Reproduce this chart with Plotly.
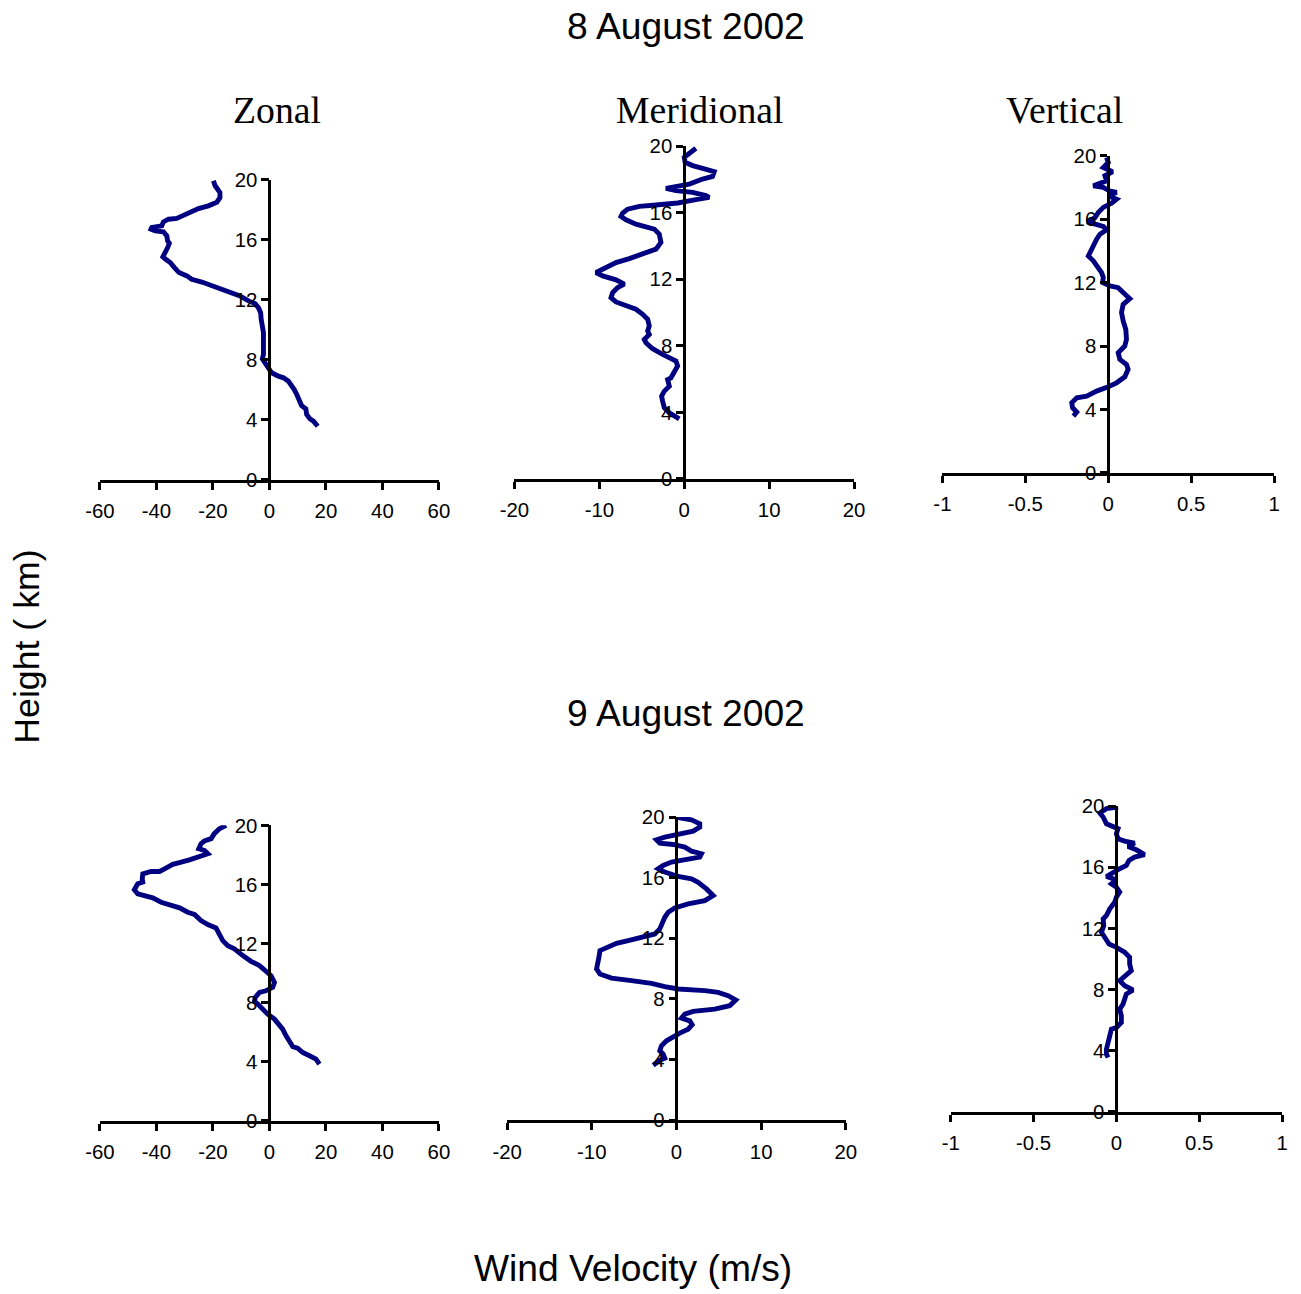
import plotly.graph_objects as go

# ---- Wind profiles, 8 August 2002 (height in km, wind in m/s) ----
zonal_aug8_h = [19.93, 19.6, 19.15, 18.8, 18.5, 18.26, 18.08, 17.86, 17.64, 17.42, 17.37, 17.19,
                16.93, 16.82, 16.7, 16.59, 16.53, 16.26, 15.92, 15.77, 15.48, 15.14, 14.86, 14.7,
                14.48, 14.14, 13.81, 13.59, 13.36, 13.18, 12.96, 12.69, 12.47, 12.25, 11.92, 11.74,
                11.47, 11.14, 10.69, 10.24, 9.8, 9.24, 8.8, 8.35, 8.06, 7.8, 7.46, 7.13, 6.9, 6.79,
                6.57, 6.28, 6.01, 5.68, 5.35, 4.94, 4.72, 4.34, 4.05, 3.9, 3.56]
zonal_aug8_u = [-19.8, -19.2, -17.5, -17.5, -18.6, -21.6, -25.1, -27.5, -29.8, -32.8, -35.7, -37.5,
                -38.1, -41.6, -41.9, -40.4, -37.5, -36.3, -36.0, -35.4, -36.0, -36.7, -37.7, -36.7,
                -35.1, -33.6, -32.0, -29.2, -27.5, -23.9, -20.4, -16.3, -13.3, -10.4, -7.4, -5.1,
                -3.9, -3.1, -2.9, -2.5, -2.1, -2.1, -1.9, -2.1, -2.5, -1.5, -0.35, 0.8, 3.2, 5.0,
                6.7, 7.9, 8.8, 9.7, 10.5, 11.4, 12.9, 13.2, 14.4, 15.6, 17.1]

merid_aug8_h = [19.88, 19.68, 19.34, 19.04, 18.84, 18.67, 18.47, 18.19, 18.03, 17.73, 17.59, 17.47,
                17.33, 17.23, 17.03, 16.93, 16.79, 16.59, 16.47, 16.39, 16.22, 15.98, 15.78, 15.58,
                15.32, 15.18, 15.02, 14.72, 14.22, 13.82, 13.51, 13.25, 13.01, 12.71, 12.41, 12.21,
                11.97, 11.71, 11.51, 11.2, 10.9, 10.64, 10.4, 10.2, 9.9, 9.6, 9.2, 8.9, 8.69, 8.39,
                8.19, 7.83, 7.49, 7.29, 7.09, 6.79, 6.49, 6.08, 5.98, 5.58, 5.28, 4.98, 4.68, 4.28,
                3.98, 3.61]
merid_aug8_v = [1.37, 0.78, 0.0, 0.1, 0.98, 2.16, 3.53, 3.33, 2.16, 0.59, -0.98, -2.16,
                -0.98, 0.98, 2.55, 2.94, 1.37, -0.78, -3.33, -5.29, -6.67, -7.25, -7.45, -6.86,
                -5.69, -4.51, -3.53, -2.94, -2.75, -3.33, -4.9, -6.47, -8.04, -9.22, -10.39, -9.61,
                -8.04, -7.06, -7.84, -8.43, -8.63, -8.04, -6.67, -5.69, -4.9, -4.31, -4.12, -4.31,
                -4.12, -4.71, -4.51, -3.73, -2.55, -1.57, -0.98, -0.78, -1.18, -1.57, -1.96, -1.76,
                -2.35, -2.67, -2.55, -2.35, -1.76, -0.59]

vert_aug8_h = [19.89, 19.58, 19.26, 18.99, 18.74, 18.42, 18.1, 18.0, 17.79, 17.68, 17.47, 17.26,
               17.01, 16.74, 16.42, 16.1, 15.83, 15.68, 15.54, 15.33, 15.05, 14.74, 14.32, 14.0,
               13.68, 13.37, 12.95, 12.63, 12.32, 12.0, 11.79, 11.68, 11.37, 10.99, 10.63, 10.11,
               9.58, 9.05, 8.42, 8.0, 7.58, 7.16, 6.84, 6.53, 6.06, 5.68, 5.43, 5.16, 4.84, 4.74,
               4.42, 4.11, 3.83, 3.58]
vert_aug8_w = [-0.01, 0.0, -0.03, 0.026, -0.02, -0.01, -0.09, -0.03, 0.006, 0.05, 0.0, 0.05,
               0.02, -0.03, -0.06, -0.08, -0.127, -0.07, -0.03, -0.01, -0.05, -0.07, -0.09, -0.11,
               -0.12, -0.09, -0.06, -0.04, -0.03, -0.034, 0.01, 0.06, 0.09, 0.13, 0.09, 0.08,
               0.09, 0.106, 0.11, 0.1, 0.06, 0.07, 0.11, 0.12, 0.1, 0.05, 0.0, -0.07, -0.13, -0.19,
               -0.22, -0.215, -0.19, -0.21]

# ---- Wind profiles, 9 August 2002 ----
zonal_aug9_h = [20.0, 19.77, 19.44, 19.1, 18.94, 18.76, 18.42, 18.3, 18.08, 17.85, 17.67, 17.51,
                17.36, 17.06, 16.88, 16.88, 16.72, 16.38, 16.16, 16.05, 15.64, 15.37, 15.25, 15.1,
                14.8, 14.62, 14.42, 14.12, 13.97, 13.56, 13.29, 13.06, 12.66, 12.2, 11.86, 11.64,
                11.19, 10.8, 10.51, 10.17, 9.83, 9.38, 9.04, 8.81, 8.7, 8.36, 8.09, 7.91, 7.57, 7.23,
                6.89, 6.55, 6.21, 5.76, 5.42, 5.02, 4.93, 4.63, 4.41, 4.18, 3.84]
zonal_aug9_u = [-15.3, -17.7, -19.5, -20.6, -23.0, -24.2, -25.0, -23.0, -21.8, -24.8, -28.3, -31.2,
                -34.2, -37.1, -38.9, -41.9, -44.8, -45.0, -44.8, -46.6, -47.8, -46.6, -43.6, -41.3,
                -38.3, -35.4, -31.8, -28.9, -26.5, -24.2, -21.8, -18.9, -17.7, -16.5, -14.7, -12.4,
                -9.4, -6.5, -3.5, -1.2, 0.6, 1.8, 1.2, -1.2, -3.5, -5.0, -5.3, -4.1, -2.4, -0.6,
                1.8, 3.5, 4.7, 5.9, 7.1, 8.3, 10.0, 11.8, 14.2, 16.5, 17.7]

merid_aug9_h = [19.96, 19.82, 19.56, 19.34, 19.07, 18.9, 18.68, 18.5, 18.28, 18.19, 18.02, 17.75,
                17.58, 17.36, 17.2, 17.03, 16.81, 16.59, 16.37, 16.08, 15.93, 15.7, 15.26, 14.82,
                14.49, 14.27, 14.0, 13.72, 13.39, 13.06, 12.62, 12.29, 12.03, 11.85, 11.67, 11.41,
                11.19, 10.75, 10.31, 9.98, 9.65, 9.38, 9.21, 9.03, 8.81, 8.66, 8.55, 8.44, 8.22,
                7.93, 7.56, 7.33, 7.18, 7.0, 6.74, 6.56, 6.3, 6.01, 5.75, 5.51, 5.24, 4.91, 4.58,
                4.36, 4.1, 3.96, 3.63]
merid_aug9_v = [0.2, 1.77, 2.75, 2.75, 1.97, 0.2, -1.38, -2.36, -1.97, -0.39, 0.98, 1.77,
                2.95, 2.75, 0.98, -0.59, -1.57, -2.16, -1.38, 0.2, 1.77, 2.56, 3.54, 4.33,
                3.34, 1.38, -0.2, -0.98, -1.38, -1.57, -1.97, -2.56, -4.13, -5.7, -7.08, -8.26,
                -9.04, -9.16, -9.24, -9.44, -9.04, -7.67, -5.31, -2.95, -1.38, 0.2, 3.34, 4.92, 6.1,
                7.0, 6.29, 4.52, 1.97, 0.98, 0.59, 1.57, 1.85, 1.38, 0.39, -0.39, -1.18, -1.77, -1.97,
                -1.57, -1.38, -1.97, -2.75]

vert_aug9_h = [19.93, 19.83, 19.54, 19.28, 18.84, 18.67, 18.52, 18.19, 17.86, 17.71, 17.58, 17.36,
               17.14, 16.83, 16.66, 16.44, 16.11, 15.9, 15.68, 15.39, 15.17, 14.91, 14.69, 14.37,
               14.04, 13.71, 13.28, 12.84, 12.62, 12.18, 11.75, 11.31, 10.98, 10.76, 10.44, 10.11,
               9.67, 9.24, 8.91, 8.58, 8.25, 7.97, 7.71, 7.38, 7.05, 6.72, 6.29, 5.85, 5.52, 5.41,
               4.98, 4.54, 4.1, 3.78, 3.56]
vert_aug9_w = [0.01, -0.06, -0.1, -0.08, -0.06, -0.01, 0.01, 0.0, 0.01, 0.05, 0.11, 0.07,
               0.12, 0.17, 0.11, 0.076, 0.06, 0.02, -0.01, -0.06, 0.0, -0.03, 0.0, 0.02,
               0.0, -0.01, -0.04, -0.06, -0.08, -0.076, -0.09, -0.06, -0.044, 0.0, 0.05, 0.08,
               0.08, 0.09, 0.06, 0.02, 0.05, 0.1, 0.06, 0.05, 0.04, 0.02, 0.03, 0.03, 0.0, -0.03,
               -0.04, -0.05, -0.06, -0.06, -0.05]

# tick values for each component
zonal_ticks = [-60, -40, -20, 0, 20, 40, 60]
merid_ticks = [-20, -10, 0, 10, 20]
vert_ticks = [-1, -0.5, 0, 0.5, 1]
vert_ticklabels = ["-1", "-0.5", "0", "0.5", "1"]
height_ticks = [0, 4, 8, 12, 16, 20]

W, H = 1301, 1294
LINE = "#000080"
SANS = "Arial, Liberation Sans, sans-serif"
SERIF = "Times New Roman, Liberation Serif, serif"

# The page is displayed slightly inset; lay everything out on a canvas spread
# outward from the centre by 1/S so the visible positions land where wanted.
S = 0.981
CX, CY = W / 2, H / 2


def fx(px):
    return (CX + (px - CX) / S) / W


def fy(py):
    return 1 - (CY + (py - CY) / S) / H


def fs(size):
    return size / S


# panel geometry in pixels: left, right, top, bottom edges of each plot box
panels = [
    dict(x=zonal_aug8_u, y=zonal_aug8_h, l=97.3, r=436.7, t=180.7, b=480.0,
         rng=[-60, 60], ticks=zonal_ticks, labels=None),
    dict(x=merid_aug8_v, y=merid_aug8_h, l=512.3, r=852.3, t=147.3, b=479.3,
         rng=[-20, 20], ticks=merid_ticks, labels=None),
    dict(x=vert_aug8_w, y=vert_aug8_h, l=940.7, r=1272.7, t=156.7, b=473.3,
         rng=[-1, 1], ticks=vert_ticks, labels=vert_ticklabels),
    dict(x=zonal_aug9_u, y=zonal_aug9_h, l=97.3, r=436.7, t=825.0, b=1120.0,
         rng=[-60, 60], ticks=zonal_ticks, labels=None),
    dict(x=merid_aug9_v, y=merid_aug9_h, l=505.0, r=844.0, t=816.7, b=1119.3,
         rng=[-20, 20], ticks=merid_ticks, labels=None),
    dict(x=vert_aug9_w, y=vert_aug9_h, l=949.0, r=1280.7, t=805.7, b=1111.0,
         rng=[-1, 1], ticks=vert_ticks, labels=vert_ticklabels),
]

fig = go.Figure()
layout = {}
for i, p in enumerate(panels, start=1):
    xa = "x" if i == 1 else f"x{i}"
    ya = "y" if i == 1 else f"y{i}"
    fig.add_trace(go.Scatter(x=p["x"], y=p["y"], mode="lines", xaxis=xa, yaxis=ya,
                             line=dict(color=LINE, width=fs(4.8)), showlegend=False,
                             hoverinfo="x+y"))
    lo, hi = p["rng"]
    zero_px = p["l"] + (0 - lo) / (hi - lo) * (p["r"] - p["l"])
    xkey = "xaxis" if i == 1 else f"xaxis{i}"
    ykey = "yaxis" if i == 1 else f"yaxis{i}"
    layout[xkey] = dict(
        domain=[fx(p["l"]), fx(p["r"])], range=p["rng"], anchor=ya,
        showline=True, linecolor="black", linewidth=fs(2.5), mirror=False,
        showgrid=False, zeroline=False, ticks="outside", ticklen=fs(7), tickwidth=fs(2.5),
        tickcolor="black", tickvals=p["ticks"], ticklabelstandoff=4,
        ticktext=p["labels"] if p["labels"] else [str(v) for v in p["ticks"]],
        tickfont=dict(family=SANS, size=fs(20), color="black"), fixedrange=True,
    )
    layout[ykey] = dict(
        domain=[fy(p["b"]), fy(p["t"])], range=[0, 20], anchor="free",
        position=fx(zero_px),
        showline=True, linecolor="black", linewidth=fs(2.5),
        showgrid=False, zeroline=False, ticks="outside", ticklen=fs(7), tickwidth=fs(2.5),
        tickcolor="black", tickvals=height_ticks,
        tickfont=dict(family=SANS, size=fs(20), color="black"), fixedrange=True,
    )


def note(text, xpx, ypx, size, family, angle=0):
    return dict(text=text, x=fx(xpx), y=fy(ypx), xref="paper", yref="paper",
                xanchor="center", yanchor="middle", showarrow=False, textangle=angle,
                font=dict(family=family, size=fs(size), color="black"))


annotations = [
    note("8 August 2002", 684, 27, 36.5, SANS),
    note("9 August 2002", 684, 713, 36.5, SANS),
    note("Zonal", 275, 111, 37, SERIF),
    note("Meridional", 698, 111, 37, SERIF),
    note("Vertical", 1063, 111, 37, SERIF),
    note("Height ( km)", 24, 647, 35, SANS, angle=-90),
    note("Wind Velocity (m/s)", 631, 1267, 36.5, SANS),
]

fig.update_layout(
    width=W, height=H, margin=dict(l=0, r=0, t=0, b=0),
    paper_bgcolor="white", plot_bgcolor="white",
    annotations=annotations, **layout,
)

fig.write_html("out.html", config={"displayModeBar": False})
